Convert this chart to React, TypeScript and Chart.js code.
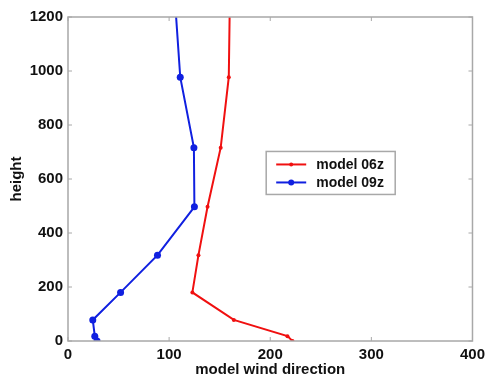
import React, { useEffect, useRef } from "react";
import { Chart, registerables } from "chart.js";

Chart.register(...registerables);

const heights = [0, 18, 78, 180, 318, 497, 716, 977, 1250];
const model06z = [222, 217, 164, 123, 129, 138, 151, 159, 160];
const model09z = [28.7, 26.5, 24.5, 52, 88.5, 125, 124.5, 111, 106];
const seriesNames = ["model 06z", "model 09z"];
const seriesColors = ["#f01010", "#1020e0"];
const xTicks = [0, 100, 200, 300, 400];
const yTicks = [0, 200, 400, 600, 800, 1000, 1200];
const xTitle = "model wind direction";
const yTitle = "height";

const FONT = "'Liberation Sans', Arial, Helvetica, sans-serif";

const framePlugin = {
  id: "frame",
  afterDatasetsDraw(chart: any) {
    const { ctx, chartArea: a, scales } = chart;
    ctx.save();
    ctx.strokeStyle = "#a8a8a8";
    ctx.lineWidth = 1.5;
    ctx.strokeRect(a.left, a.top, a.right - a.left, a.bottom - a.top);
    ctx.lineWidth = 1;
    const tl = 4;
    ctx.beginPath();
    for (const v of xTicks) {
      const px = scales.x.getPixelForValue(v);
      ctx.moveTo(px, a.bottom);
      ctx.lineTo(px, a.bottom - tl);
      ctx.moveTo(px, a.top);
      ctx.lineTo(px, a.top + tl);
    }
    for (const v of yTicks) {
      const py = scales.y.getPixelForValue(v);
      ctx.moveTo(a.left, py);
      ctx.lineTo(a.left + tl, py);
      ctx.moveTo(a.right, py);
      ctx.lineTo(a.right - tl, py);
    }
    ctx.stroke();
    ctx.restore();
  },
  afterDraw(chart: any) {
    const { ctx, chartArea: a } = chart;
    const w = a.right - a.left;
    const h = a.bottom - a.top;
    const bx = a.left + w * 0.49;
    const by = a.top + h * 0.415;
    const bw = 129;
    const bh = 43;
    ctx.save();
    ctx.fillStyle = "#ffffff";
    ctx.fillRect(bx, by, bw, bh);
    ctx.strokeStyle = "#a8a8a8";
    ctx.lineWidth = 1.5;
    ctx.strokeRect(bx, by, bw, bh);
    ctx.font = `bold 14px ${FONT}`;
    ctx.textBaseline = "middle";
    seriesNames.forEach((name, i) => {
      const cy = by + 13 + i * 18;
      ctx.strokeStyle = seriesColors[i];
      ctx.fillStyle = seriesColors[i];
      ctx.lineWidth = 2;
      ctx.beginPath();
      ctx.moveTo(bx + 10, cy);
      ctx.lineTo(bx + 40, cy);
      ctx.stroke();
      ctx.beginPath();
      ctx.arc(bx + 25, cy, i === 0 ? 2 : 3, 0, Math.PI * 2);
      ctx.fill();
      ctx.fillStyle = "#111";
      ctx.fillText(name, bx + 50, cy + 0.5);
    });
    ctx.restore();
  },
};

export default function App() {
  const ref = useRef<HTMLCanvasElement>(null);
  useEffect(() => {
    document.body.style.margin = "0";
    const chart = new Chart(ref.current!, {
      type: "line",
      data: {
        datasets: [
          {
            label: seriesNames[0],
            data: heights.map((h, i) => ({ x: model06z[i], y: h })),
            borderColor: seriesColors[0],
            backgroundColor: seriesColors[0],
            borderWidth: 2,
            pointRadius: 2,
            pointBorderWidth: 0,
            showLine: true,
            tension: 0,
          },
          {
            label: seriesNames[1],
            data: heights.map((h, i) => ({ x: model09z[i], y: h })),
            borderColor: seriesColors[1],
            backgroundColor: seriesColors[1],
            borderWidth: 2,
            pointRadius: 3.5,
            pointBorderWidth: 0,
            showLine: true,
            tension: 0,
          },
        ],
      },
      plugins: [framePlugin],
      options: {
        animation: false,
        responsive: false,
        maintainAspectRatio: false,
        layout: { padding: { top: 17, right: 14, left: 0, bottom: 0 } },
        plugins: { legend: { display: false }, tooltip: { enabled: false } },
        scales: {
          x: {
            type: "linear",
            min: 0,
            max: 400,
            afterBuildTicks: (s: any) => {
              s.ticks = xTicks.map((v) => ({ value: v }));
            },
            afterFit: (s: any) => {
              s.height = 39;
            },
            grid: { display: false, drawTicks: false },
            border: { display: false },
            ticks: {
              padding: 5,
              color: "#111",
              font: { family: FONT, size: 15, weight: "bold" },
              maxRotation: 0,
              callback: (v: any) => String(v),
            },
            title: {
              display: true,
              text: xTitle,
              color: "#111",
              font: { family: FONT, size: 15, weight: "bold" },
              padding: { top: 0, bottom: 1 },
            },
          },
          y: {
            type: "linear",
            min: 0,
            max: 1200,
            afterBuildTicks: (s: any) => {
              s.ticks = yTicks.map((v) => ({ value: v }));
            },
            afterFit: (s: any) => {
              s.width = 68;
            },
            grid: { display: false, drawTicks: false },
            border: { display: false },
            ticks: {
              padding: 5,
              color: "#111",
              font: { family: FONT, size: 15, weight: "bold" },
              callback: (v: any) => String(v),
            },
            title: {
              display: true,
              text: yTitle,
              color: "#111",
              font: { family: FONT, size: 15, weight: "bold" },
              padding: { top: 8, bottom: 0 },
            },
          },
        },
      },
    } as any);
    return () => chart.destroy();
  }, []);
  return <canvas ref={ref} width={490} height={380} style={{ display: "block" }} />;
}
